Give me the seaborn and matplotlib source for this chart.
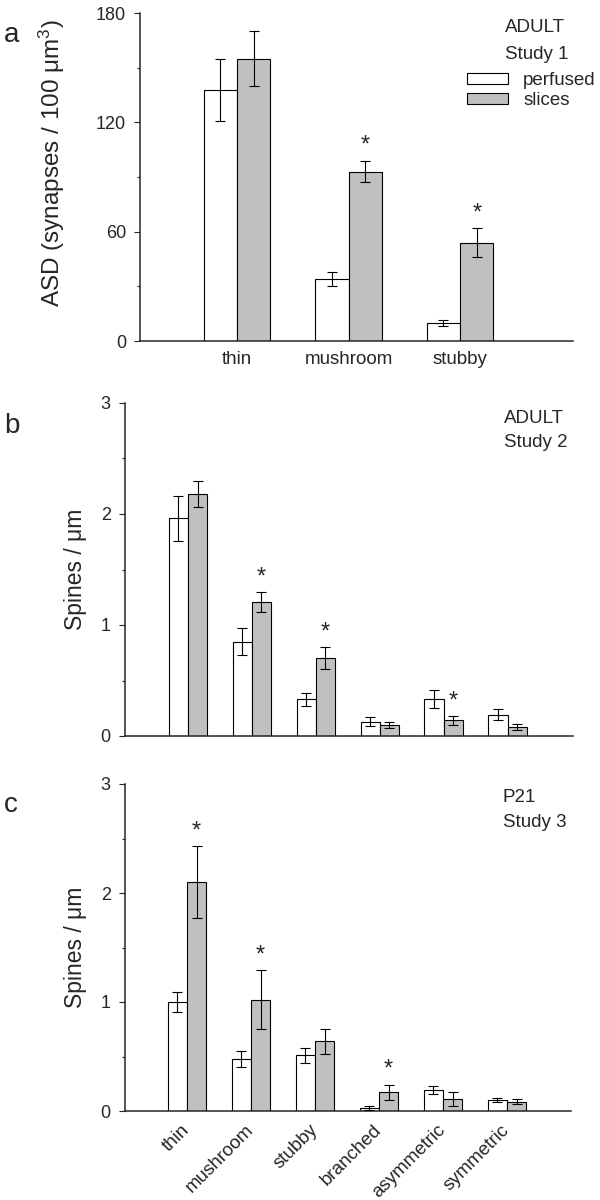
import matplotlib
matplotlib.use("Agg")
import matplotlib.pyplot as plt
import seaborn as sns
import pandas as pd
from matplotlib.ticker import MultipleLocator

# ---------------- data ----------------
conditions = ["perfused", "slices"]

cats_a = ["thin", "mushroom", "stubby"]
perf_a = [138, 34, 10]
perf_a_err = [17, 4, 1.7]
sli_a = [155, 93, 54]
sli_a_err = [15, 6, 8]
sig_a = [False, True, True]

cats_bc = ["thin", "mushroom", "stubby", "branched", "asymmetric", "symmetric"]
perf_b = [1.96, 0.85, 0.33, 0.13, 0.33, 0.19]
perf_b_err = [0.20, 0.12, 0.06, 0.04, 0.08, 0.05]
sli_b = [2.18, 1.21, 0.70, 0.10, 0.14, 0.08]
sli_b_err = [0.12, 0.09, 0.10, 0.03, 0.04, 0.027]
sig_b = [False, True, True, False, True, False]

perf_c = [1.00, 0.48, 0.51, 0.03, 0.19, 0.10]
perf_c_err = [0.09, 0.075, 0.07, 0.017, 0.037, 0.02]
sli_c = [2.10, 1.02, 0.64, 0.17, 0.11, 0.085]
sli_c_err = [0.33, 0.27, 0.115, 0.073, 0.067, 0.024]
sig_c = [True, True, False, True, False, False]

# ---------------- style ----------------
sns.set_style("ticks")
plt.rcParams["font.family"] = ["Liberation Sans", "DejaVu Sans"]
plt.rcParams["mathtext.fontset"] = "custom"
plt.rcParams["mathtext.rm"] = "Liberation Sans"
plt.rcParams["mathtext.default"] = "regular"

FS = 13.5
TFS = 13
palette = {"perfused": "white", "slices": "#c0c0c0"}

fig = plt.figure(figsize=(6, 12), dpi=100)
W, H = 600.0, 1200.0


def add_ax(x0, y_top, x1, y_bot):
    return fig.add_axes([x0 / W, 1 - y_bot / H, (x1 - x0) / W, (y_bot - y_top) / H])


def panel(ax, cats, perf, perf_err, sli, sli_err, sig, ymax, major, minor):
    n = len(cats)
    df = pd.DataFrame({
        "category": cats * 2,
        "condition": ["perfused"] * n + ["slices"] * n,
        "value": perf + sli,
    })
    sns.barplot(data=df, x="category", y="value", hue="condition", order=cats,
                hue_order=conditions, palette=palette, saturation=1, width=0.6,
                gap=0, edgecolor="black", linewidth=0.8, errorbar=None,
                legend=False, ax=ax)
    for cont, errs in zip(ax.containers, [perf_err, sli_err]):
        xs = [p.get_x() + p.get_width() / 2 for p in cont.patches]
        ys = [p.get_height() for p in cont.patches]
        ax.errorbar(xs, ys, yerr=errs, fmt="none", ecolor="black",
                    elinewidth=0.8, capsize=3.8, capthick=0.8, zorder=5)
    sl = ax.containers[1].patches
    for i, s in enumerate(sig):
        if s:
            p = sl[i]
            ax.annotate("*", (p.get_x() + p.get_width() / 2, p.get_height() + sli_err[i]),
                        xytext=(0, 10.5), textcoords="offset points",
                        ha="center", va="center", fontsize=17)
    ax.set_ylim(0, ymax)
    ax.yaxis.set_major_locator(MultipleLocator(major))
    ax.yaxis.set_minor_locator(MultipleLocator(minor))
    ax.tick_params(axis="y", which="major", length=4, width=0.8, labelsize=TFS, pad=6)
    ax.tick_params(axis="y", which="minor", length=2.5, width=0.8)
    ax.tick_params(axis="x", length=0, labelsize=FS)
    ax.set_xlabel("")
    sns.despine(ax=ax)
    for s in ["left", "bottom"]:
        ax.spines[s].set_linewidth(1.1)


# ---------------- panel a ----------------
ax_a = add_ax(140, 13, 573, 341)
panel(ax_a, cats_a, perf_a, perf_a_err, sli_a, sli_a_err, sig_a, 180, 60, 30)
ax_a.set_xlim(-0.87, 3.013)
ax_a.tick_params(axis="x", pad=7)
ax_a.set_ylabel("ASD (synapses / 100 μm$^{3}$)", fontsize=17.5)
ax_a.yaxis.set_label_coords(-0.169, 0.543)
h = [ax_a.containers[0].patches[0], ax_a.containers[1].patches[0]]
ax_a.legend(h, conditions, loc="upper left", bbox_to_anchor=(467 / W, 1 - 72 / H),
            bbox_transform=fig.transFigure, frameon=False, fontsize=FS,
            handlelength=2.2, handleheight=0.5, handletextpad=0.8,
            labelspacing=0.16, borderpad=0, borderaxespad=0)

# ---------------- panel b ----------------
ax_b = add_ax(124.6, 403, 573, 736)
panel(ax_b, cats_bc, perf_b, perf_b_err, sli_b, sli_b_err, sig_b, 3, 1, 0.5)
ax_b.set_xlim(-0.992, 6.025)
ax_b.set_xticklabels([])
ax_b.set_ylabel("Spines / μm", fontsize=16.5)
ax_b.yaxis.set_label_coords(-0.084, 0.5)

# ---------------- panel c ----------------
ax_c = add_ax(124.6, 784, 571, 1111)
panel(ax_c, cats_bc, perf_c, perf_c_err, sli_c, sli_c_err, sig_c, 3, 1, 0.5)
ax_c.set_xlim(-0.975, 6.0)
ax_c.tick_params(axis="x", pad=12)
for lab in ax_c.get_xticklabels():
    lab.set_rotation(45)
    lab.set_ha("right")
    lab.set_va("center")
    lab.set_rotation_mode("anchor")
ax_c.set_ylabel("Spines / μm", fontsize=16.5)
ax_c.yaxis.set_label_coords(-0.084, 0.5)

# ---------------- texts ----------------
def ftext(x, y, s, **kw):
    fig.text(x / W, 1 - y / H, s, ha="left", va="baseline", **kw)

ftext(505, 32, "ADULT", fontsize=FS)
ftext(505, 59, "Study 1", fontsize=FS)
ftext(504, 423, "ADULT", fontsize=FS)
ftext(504, 447, "Study 2", fontsize=FS)
ftext(503, 802, "P21", fontsize=FS)
ftext(503, 827, "Study 3", fontsize=FS)
ftext(4, 42, "a", fontsize=20)
ftext(4, 433, "b", fontsize=20)
ftext(4, 812, "c", fontsize=20)

fig.savefig("out.png", dpi=100)
